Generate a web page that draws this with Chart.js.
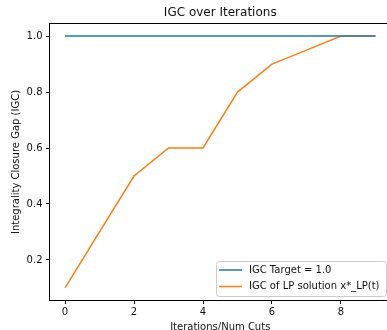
<!DOCTYPE html>
<html>
<head>
<meta charset="utf-8">
<script src="https://cdn.jsdelivr.net/npm/chart.js@4"></script>
<style>
  body { margin: 0; overflow: hidden; background: #fff; }
  #wrap { width: 400px; height: 330px; position: relative; }
</style>
</head>
<body>
<div id="wrap"><canvas id="igcChart"></canvas></div>
<script>
const iterations = [0, 1, 2, 3, 4, 5, 6, 7, 8, 9];
const igcTarget = [1.0, 1.0, 1.0, 1.0, 1.0, 1.0, 1.0, 1.0, 1.0, 1.0];
const igcLP = [0.1, 0.3, 0.5, 0.6, 0.6, 0.8, 0.9, 0.95, 1.0, 1.0];
const xTicks = [0, 2, 4, 6, 8];
const yTicks = [0.2, 0.4, 0.6, 0.8, 1.0];
const seriesNames = ["IGC Target = 1.0", "IGC of LP solution x*_LP(t)"];

const FONT = "DejaVu Sans";
const colors = ["#1f77b4", "#ff7f0e"];

const toPoints = (ys) => iterations.map((x, i) => ({ x: x, y: ys[i] }));

// title, axis titles, top spine and the in-plot legend
const decorations = {
    id: "decorations",
    afterDraw(chart) {
        const ctx = chart.ctx;
        const a = chart.chartArea;
        ctx.save();
        ctx.strokeStyle = "#000";
        ctx.lineWidth = 1;
        ctx.beginPath();
        ctx.moveTo(a.left, a.top);
        ctx.lineTo(a.right, a.top);
        ctx.stroke();

        ctx.fillStyle = "#111";
        ctx.textAlign = "center";
        ctx.textBaseline = "middle";
        ctx.font = "12px '" + FONT + "'";
        ctx.fillText("IGC over Iterations", (a.left + a.right) / 2, 13);
        ctx.font = "10px '" + FONT + "'";
        ctx.fillText("Iterations/Num Cuts", (a.left + a.right) / 2, 327);
        ctx.translate(16, (a.top + a.bottom) / 2);
        ctx.rotate(-Math.PI / 2);
        ctx.fillText("Integrality Closure Gap (IGC)", 0, 0);
        ctx.restore();

        // legend box, lower right
        ctx.save();
        const bx = 216.5, by = 261.5, bw = 170, bh = 35, r = 3;
        ctx.beginPath();
        ctx.moveTo(bx + r, by);
        ctx.arcTo(bx + bw, by, bx + bw, by + bh, r);
        ctx.arcTo(bx + bw, by + bh, bx, by + bh, r);
        ctx.arcTo(bx, by + bh, bx, by, r);
        ctx.arcTo(bx, by, bx + bw, by, r);
        ctx.closePath();
        ctx.fillStyle = "rgba(255,255,255,0.8)";
        ctx.fill();
        ctx.strokeStyle = "#cccccc";
        ctx.stroke();
        ctx.font = "10px '" + FONT + "'";
        ctx.textAlign = "left";
        ctx.textBaseline = "middle";
        seriesNames.forEach((name, i) => {
            const y = 270 + i * 16.5;
            ctx.strokeStyle = colors[i];
            ctx.lineWidth = 1.5;
            ctx.beginPath();
            ctx.moveTo(219, y);
            ctx.lineTo(242, y);
            ctx.stroke();
            ctx.fillStyle = "#111";
            ctx.fillText(name, 249, y);
        });
        ctx.restore();
    }
};

new Chart(document.getElementById("igcChart"), {
    type: "line",
    data: {
        datasets: [
            { label: seriesNames[0], data: toPoints(igcTarget), borderColor: colors[0], backgroundColor: colors[0] },
            { label: seriesNames[1], data: toPoints(igcLP), borderColor: colors[1], backgroundColor: colors[1] }
        ]
    },
    options: {
        responsive: true,
        maintainAspectRatio: false,
        animation: false,
        devicePixelRatio: 1,
        layout: { padding: { top: 23.5, right: 9, left: 0, bottom: 0 } },
        elements: {
            point: { radius: 0 },
            line: { borderWidth: 1.5, tension: 0 }
        },
        plugins: {
            legend: { display: false },
            title: { display: false },
            tooltip: { enabled: false }
        },
        scales: {
            x: {
                type: "linear",
                min: -0.45,
                max: 9.45,
                afterBuildTicks: (scale) => { scale.ticks = xTicks.map(v => ({ value: v })); },
                afterFit: (scale) => { scale.height = 29.5; },
                grid: { drawOnChartArea: false, drawTicks: true, tickLength: 3.5, color: "#000" },
                border: { display: true, color: "#000", width: 1 },
                ticks: {
                    padding: 2,
                    color: "#111",
                    font: { family: FONT, size: 10 },
                    maxRotation: 0,
                    callback: (v) => String(v)
                }
            },
            y: {
                type: "linear",
                min: 0.055,
                max: 1.045,
                afterBuildTicks: (scale) => { scale.ticks = yTicks.map(v => ({ value: v })); },
                afterFit: (scale) => { scale.width = 49.5; },
                grid: { drawOnChartArea: false, drawTicks: true, tickLength: 3.5, color: "#000" },
                border: { display: true, color: "#000", width: 1 },
                ticks: {
                    padding: 3.5,
                    color: "#111",
                    font: { family: FONT, size: 10 },
                    callback: (v) => Number(v).toFixed(1)
                }
            }
        }
    },
    plugins: [decorations]
});
</script>
</body>
</html>
